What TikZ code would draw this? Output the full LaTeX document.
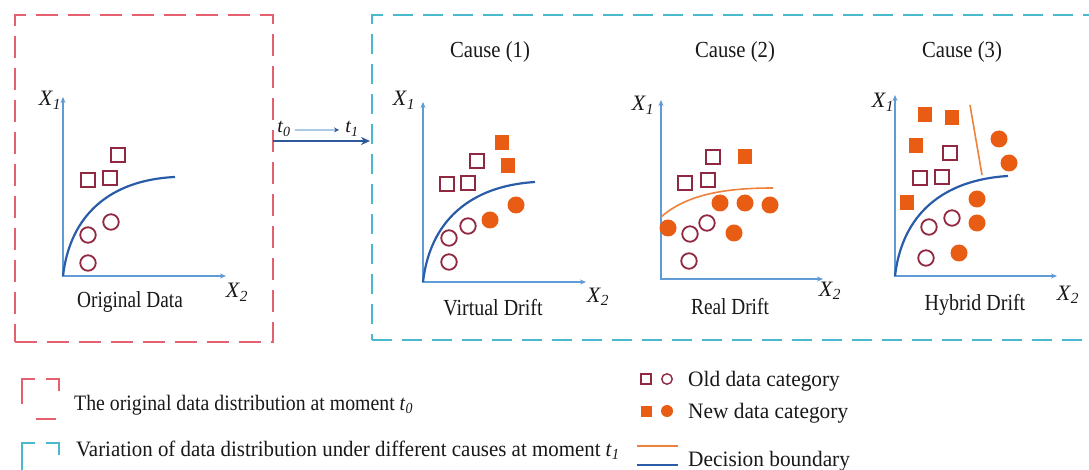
\documentclass[tikz,border=0pt]{standalone}
\usepackage{fontspec}
\setmainfont{Liberation Serif}
\usepackage{graphicx}
\usetikzlibrary{arrows.meta}
\definecolor{axisc}{RGB}{95,155,212}
\definecolor{curvec}{RGB}{42,92,168}
\definecolor{arrc}{RGB}{47,88,155}
\definecolor{oldc}{RGB}{145,40,65}
\definecolor{newc}{RGB}{232,92,20}
\definecolor{bndc}{RGB}{237,130,60}
\definecolor{redc}{RGB}{228,96,110}
\definecolor{cyanc}{RGB}{75,185,205}
\newcommand\sx[2]{\scalebox{#1}[1]{#2}}
\newcommand\XL[1]{\textit{X}\textsubscript{\textit{#1}}}
\newcommand\TL[1]{\textit{t}\textsubscript{\textit{#1}}}
\newcommand\OS[3]{\node[oldsq] (#1) at (#2,#3) {};}
\newcommand\NS[3]{\node[newsq] (#1) at (#2,#3) {};}
\newcommand\OC[3]{\node[oldci] (#1) at (#2,#3) {};}
\newcommand\NC[3]{\node[newci] (#1) at (#2,#3) {};}
\tikzset{
  oldsq/.style={rectangle, draw=oldc, line width=1.8pt, minimum width=13.5pt, minimum height=14pt, inner sep=0},
  newsq/.style={rectangle, fill=newc, minimum width=14pt, minimum height=15pt, inner sep=0},
  oldci/.style={circle, draw=oldc, line width=1.8pt, minimum size=15.5pt, inner sep=0},
  newci/.style={circle, fill=newc, minimum size=17pt, inner sep=0},
  axis/.style={draw=axisc, line width=2pt, {Stealth[length=6pt,width=5pt]}-{Stealth[length=6pt,width=5pt]}},
  bcurve/.style={draw=curvec, line width=2.2pt},
  ocurve/.style={draw=bndc, line width=1.6pt},
  plab/.style={font=\fontsize{23}{26}\selectfont, inner sep=0, anchor=base, text=black!90},
  xlab/.style={font=\fontsize{22}{24}\selectfont, inner sep=0, anchor=base, text=black!90},
  leg/.style={font=\fontsize{22}{24}\selectfont, inner sep=0, anchor=base west, text=black!90},
  redbox/.style={rectangle, draw=redc, line width=2.2pt, dash pattern=on 22pt off 10pt, inner sep=0},
  cyanbox/.style={rectangle, draw=cyanc, line width=2.2pt, dash pattern=on 20pt off 10pt, inner sep=0},
  mainarr/.style={draw=arrc, line width=2.6pt, -{Stealth[length=9pt,width=8pt]}},
  smallarr/.style={draw=axisc!80, line width=1.2pt, -{Stealth[length=5pt,width=5pt,color=arrc]}},
}
\begin{document}
\begin{tikzpicture}[x=1pt,y=-1pt]
\useasboundingbox (0,0) rectangle (1089,470);
\clip (0,0) rectangle (1089,470);
\fill[white] (0,0) rectangle (1089,470);
% frames
\node[redbox, minimum width=258pt, minimum height=327pt] (orig) at (144,178.5) {};
\node[cyanbox, minimum width=728pt, minimum height=325pt] (var) at (736,177.5) {};
% transition arrow
\coordinate (ma) at (273,141);
\coordinate (mb) at (370,141);
\draw[mainarr] (ma) -- (mb);
\node[xlab, font=\fontsize{20}{22}\selectfont] (t0) at (284,133) {\TL{0}};
\node[xlab, font=\fontsize{20}{22}\selectfont] (t1) at (352,133) {\TL{1}};
\draw[smallarr] ([xshift=4pt,yshift=-1pt]t0.east) -- ([xshift=-6pt,yshift=-1pt]t1.west);

% ---------- panel 1 ----------
\draw[axis] (63,97) |- (226,276);
\draw[bcurve] (63,276) .. controls (70,215) and (110,180) .. (175,177);
\OS{a1}{88}{180} \OS{a2}{110}{178} \OS{a3}{118}{155}
\OC{a4}{88}{235} \OC{a5}{111}{222} \OC{a6}{88}{263}
\node[xlab] (x1a) at (50,106) {\XL{1}};
\node[xlab] (x2a) at (237,298) {\XL{2}};
\node[plab] (od) at (130,307) {\sx{0.84}{Original Data}};

% ---------- panel 2 ----------
\node[plab] (c1) at (490,58) {\sx{0.9}{Cause (1)}};
\draw[axis] (423,102) |- (586,282);
\draw[bcurve] (423,282) .. controls (430,221) and (470,186) .. (535,182);
\OS{b1}{447}{184} \OS{b2}{468}{183} \OS{b3}{477}{161}
\NS{b4}{502}{143} \NS{b5}{508}{166}
\OC{b6}{449}{238} \OC{b7}{468}{226} \OC{b8}{449}{262}
\NC{b9}{490}{220} \NC{b10}{516}{205}
\node[xlab] (x1b) at (404,106) {\XL{1}};
\node[xlab] (x2b) at (598,302) {\XL{2}};
\node[plab] (vd) at (493,315) {\sx{0.87}{Virtual Drift}};

% ---------- panel 3 ----------
\node[plab] (c2) at (735,58) {\sx{0.9}{Cause (2)}};
\draw[axis] (661,100) |- (823,279);
\draw[ocurve] (661,217) .. controls (685,196) and (720,188) .. (773,188);
\OS{c1s}{713}{157} \OS{c2s}{685}{183} \OS{c3s}{708}{180}
\NS{c4s}{745}{157}
\NC{c5}{668}{228} \NC{c6}{720}{203} \NC{c7}{745}{203} \NC{c8}{770}{205} \NC{c9}{734}{233}
\OC{c10}{690}{234} \OC{c11}{707}{223} \OC{c12}{689}{261}
\node[xlab] (x1c) at (643,111) {\XL{1}};
\node[xlab] (x2c) at (830,296) {\XL{2}};
\node[plab] (rd) at (730,314) {\sx{0.84}{Real Drift}};

% ---------- panel 4 ----------
\node[plab] (c3) at (962,58) {\sx{0.9}{Cause (3)}};
\draw[axis] (895,95) |- (1057,276);
\draw[bcurve] (895,276) .. controls (902,215) and (942,180) .. (1008,176);
\draw[ocurve] (970,105) -- (982,175);
\NS{d1}{925}{115} \NS{d2}{952}{118} \NS{d3}{916}{146} \NS{d4}{907}{203}
\OS{d5}{950}{153} \OS{d6}{920}{178} \OS{d7}{942}{177}
\NC{d8}{999}{139} \NC{d9}{1009}{163} \NC{d10}{977}{199} \NC{d11}{977}{223} \NC{d12}{959}{253}
\OC{d13}{929}{227} \OC{d14}{952}{218} \OC{d15}{926}{258}
\node[xlab] (x1d) at (883,108) {\XL{1}};
\node[xlab] (x2d) at (1068,300) {\XL{2}};
\node[plab] (hd) at (975,310) {\sx{0.87}{Hybrid Drift}};

% ---------- legend left ----------
\draw[draw=redc, line width=2pt] (22,404) -- (22,379) -- (35,379);
\draw[draw=redc, line width=2pt] (46,379) -- (59,379) -- (59,391);
\draw[draw=redc, line width=2pt] (36,419) -- (56,419);
\node[leg] (l1) at (74,410) {\sx{0.90}{The original data distribution at moment \TL{0}}};
\draw[draw=cyanc, line width=2pt] (22,472) -- (22,443) -- (35,443);
\draw[draw=cyanc, line width=2pt] (46,443) -- (59,443) -- (59,455);
\node[leg] (l2) at (76,456) {\sx{0.95}{Variation of data distribution under different causes at moment \TL{1}}};

% ---------- legend right ----------
\node[oldsq, minimum size=10pt, line width=1.4pt] (ls1) at (646,379) {};
\node[oldci, minimum size=10.5pt, line width=1.4pt] (lc1) at (667,379) {};
\node[newsq, minimum size=11pt] (ls2) at (646,411) {};
\node[newci, minimum size=12pt] (lc2) at (667,411) {};
\coordinate (lo1) at (637,446); \coordinate (lo2) at (678,446);
\coordinate (lb1) at (637,465); \coordinate (lb2) at (678,465);
\draw[draw=bndc, line width=2pt] (lo1) -- (lo2);
\draw[draw=curvec, line width=2pt] (lb1) -- (lb2);
\node[leg] (r1) at (688,386) {\sx{0.97}{Old data category}};
\node[leg] (r2) at (688,418) {\sx{0.97}{New data category}};
\node[leg] (r3) at (688,466) {\sx{0.97}{Decision boundary}};
\end{tikzpicture}
\end{document}
